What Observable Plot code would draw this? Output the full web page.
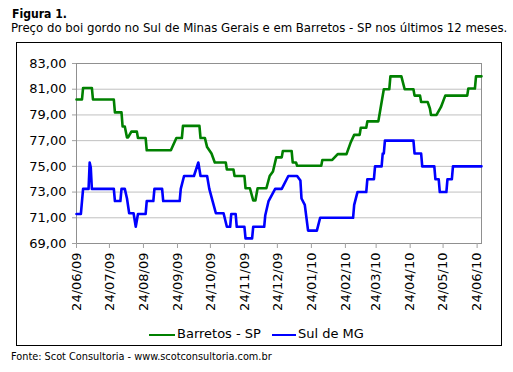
<!DOCTYPE html>
<html>
<head>
<meta charset="utf-8">
<script src="https://cdn.jsdelivr.net/npm/d3@7"></script>
<script src="https://cdn.jsdelivr.net/npm/@observablehq/plot@0.6"></script>
<style>
  body { margin: 0; background: #fff; }
  #wrap { position: relative; width: 513px; height: 372px; overflow: hidden; background: #fff; }
  .t { position: absolute; white-space: pre; font-family: "DejaVu Sans Condensed", "DejaVu Sans", sans-serif; color: #000; }
  #title { left: 12px; top: 8.7px; font-size: 11px; line-height: 11px; font-weight: bold; }
  #sub { left: 11px; top: 21.7px; font-size: 11px; line-height: 11px; }
  #src { left: 11px; top: 351.5px; font-size: 10px; line-height: 10px; }
  #box { position: absolute; left: 16px; top: 42px; width: 484px; height: 302px; border: 1px solid #000; }
  #chart { position: absolute; left: 0; top: 0; }
  .lg { position: absolute; font-family: "DejaVu Sans", sans-serif; font-size: 13px; line-height: 13px; white-space: pre; color: #000; top: 327.3px; }
  .sw { position: absolute; height: 2px; top: 333.5px; }
</style>
</head>
<body>
<div id="wrap">
  <div id="chart"></div>
  <div id="box"></div>
  <div class="t" id="title">Figura 1.</div>
  <div class="t" id="sub">Preço do boi gordo no Sul de Minas Gerais e em Barretos - SP nos últimos 12 meses.</div>
  <div class="sw" style="left:149px;width:26px;background:#008000"></div>
  <div class="lg" style="left:177px">Barretos - SP</div>
  <div class="sw" style="left:272px;width:24px;background:#0000ff"></div>
  <div class="lg" style="left:298px">Sul de MG</div>
  <div class="t" id="src">Fonte: Scot Consultoria - www.scotconsultoria.com.br</div>
</div>
<script>
const yTicks = [69, 71, 73, 75, 77, 79, 81, 83];
const xTickDates = ["2009-06-24","2009-07-24","2009-08-24","2009-09-24","2009-10-24","2009-11-24","2009-12-24","2010-01-24","2010-02-24","2010-03-24","2010-04-24","2010-05-24","2010-06-24"];
const xDomain = ["2009-06-24", "2010-06-28"];

const barretosDates = ["2009-06-24","2009-06-29","2009-06-30","2009-07-08","2009-07-09","2009-07-28","2009-07-29","2009-08-04","2009-08-05","2009-08-07","2009-08-09","2009-08-10","2009-08-13","2009-08-18","2009-08-19","2009-08-26","2009-08-27","2009-09-18","2009-09-23","2009-09-28","2009-09-29","2009-10-14","2009-10-15","2009-10-19","2009-10-21","2009-10-25","2009-10-28","2009-11-07","2009-11-08","2009-11-14","2009-11-15","2009-11-24","2009-11-25","2009-11-29","2009-12-02","2009-12-04","2009-12-06","2009-12-14","2009-12-17","2009-12-20","2009-12-23","2009-12-28","2009-12-29","2010-01-06","2010-01-07","2010-01-10","2010-01-11","2010-02-02","2010-02-03","2010-02-12","2010-02-17","2010-02-25","2010-03-01","2010-03-04","2010-03-09","2010-03-10","2010-03-15","2010-03-16","2010-03-26","2010-03-28","2010-03-31","2010-04-05","2010-04-06","2010-04-16","2010-04-19","2010-04-27","2010-04-28","2010-05-03","2010-05-04","2010-05-10","2010-05-12","2010-05-13","2010-05-18","2010-05-22","2010-05-26","2010-06-15","2010-06-16","2010-06-22","2010-06-23","2010-06-28"];
const barretosValues = [80.2,80.2,81.1,81.1,80.2,80.2,79.2,79.2,78.1,78.1,77.25,77.25,77.7,77.7,77.2,77.2,76.25,76.25,77.2,77.2,78.15,78.15,77.2,77.2,76.5,76.0,75.3,75.3,74.75,74.75,74.25,74.25,73.3,73.3,72.35,72.35,73.3,73.3,74.25,74.6,75.7,75.7,76.2,76.2,75.3,75.3,75.05,75.05,75.5,75.5,75.95,75.95,76.9,77.45,77.45,78.0,78.0,78.5,78.5,79.5,81.0,81.0,82.0,82.0,81.0,81.0,80.5,80.5,80.0,80.0,79.5,79.0,79.0,79.6,80.5,80.5,81.05,81.05,82.0,82.0];

const sulmgDates = ["2009-06-24","2009-06-28","2009-06-30","2009-07-05","2009-07-06","2009-07-07","2009-07-08","2009-07-28","2009-07-29","2009-08-03","2009-08-04","2009-08-07","2009-08-09","2009-08-11","2009-08-15","2009-08-17","2009-08-19","2009-08-26","2009-08-27","2009-09-02","2009-09-03","2009-09-10","2009-09-11","2009-09-26","2009-09-27","2009-09-30","2009-10-09","2009-10-13","2009-10-15","2009-10-21","2009-10-23","2009-10-26","2009-10-29","2009-11-05","2009-11-08","2009-11-11","2009-11-12","2009-11-16","2009-11-17","2009-11-24","2009-11-25","2009-12-01","2009-12-02","2009-12-12","2009-12-13","2009-12-16","2009-12-22","2009-12-28","2010-01-03","2010-01-11","2010-01-14","2010-01-15","2010-01-18","2010-01-21","2010-01-29","2010-02-01","2010-03-03","2010-03-04","2010-03-07","2010-03-15","2010-03-16","2010-03-22","2010-03-23","2010-03-29","2010-03-30","2010-03-31","2010-04-01","2010-04-27","2010-04-28","2010-05-04","2010-05-05","2010-05-16","2010-05-17","2010-05-20","2010-05-21","2010-05-27","2010-05-28","2010-06-01","2010-06-02","2010-06-28"];
const sulmgValues = [71.3,71.3,73.25,73.25,75.3,74.9,73.25,73.25,72.3,72.3,73.25,73.25,72.5,71.35,71.35,70.3,71.3,71.3,72.3,72.3,73.25,73.25,72.3,72.3,73.25,74.25,74.25,75.3,74.25,74.25,73.25,72.3,71.35,71.35,70.3,70.3,71.3,71.3,70.3,70.3,69.4,69.4,70.3,70.3,71.2,72.3,73.25,73.25,74.25,74.25,73.9,72.5,72.0,70.0,70.0,71.0,71.0,72.0,73.0,73.0,74.0,74.0,75.0,75.0,76.0,76.0,77.0,77.0,76.0,76.0,75.0,75.0,74.0,74.0,73.0,73.0,74.0,74.0,75.0,75.0];

const toRows = (dates, values) => dates.map((d, i) => ({date: new Date(d), value: values[i]}));
const barretos = toRows(barretosDates, barretosValues);
const sulmg = toRows(sulmgDates, sulmgValues);

const fmt = d3.format(".2f");
const xTicks = xTickDates.map(d => new Date(d));

const chart = Plot.plot({
  width: 513,
  height: 315,
  marginLeft: 76,
  marginRight: 32,
  marginTop: 63,
  marginBottom: 72,
  style: {background: "transparent", fontFamily: "DejaVu Sans", fontSize: "13px", color: "#000", overflow: "visible"},
  x: {type: "utc", domain: xDomain.map(d => new Date(d))},
  y: {domain: [69, 83]},
  marks: [
    Plot.gridY(yTicks, {stroke: "#c0c0c0", strokeOpacity: 1}),
    Plot.frame({stroke: "#909090"}),
    Plot.line(barretos, {x: "date", y: "value", stroke: "#008000", strokeWidth: 2.6}),
    Plot.line(sulmg, {x: "date", y: "value", stroke: "#0000ff", strokeWidth: 2.6}),
    Plot.axisY(yTicks, {tickFormat: d => fmt(d).replace(".", ","), tickSize: 4, tickPadding: 6, stroke: "#a0a0a0", label: null}),
    Plot.axisX(xTicks, {tickFormat: d3.utcFormat("%d/%m/%y"), tickRotate: -90, tickSize: 5, tickPadding: 4, stroke: "#a0a0a0", label: null})
  ]
});
document.getElementById("chart").appendChild(chart);

function fit(id, w) {
  const el = document.getElementById(id);
  const fs = parseFloat(getComputedStyle(el).fontSize);
  const cw = el.getBoundingClientRect().width;
  el.style.fontSize = (fs * w / cw) + "px";
}
fit("title", 55);
fit("sub", 497);
fit("src", 261);
</script>
</body>
</html>
